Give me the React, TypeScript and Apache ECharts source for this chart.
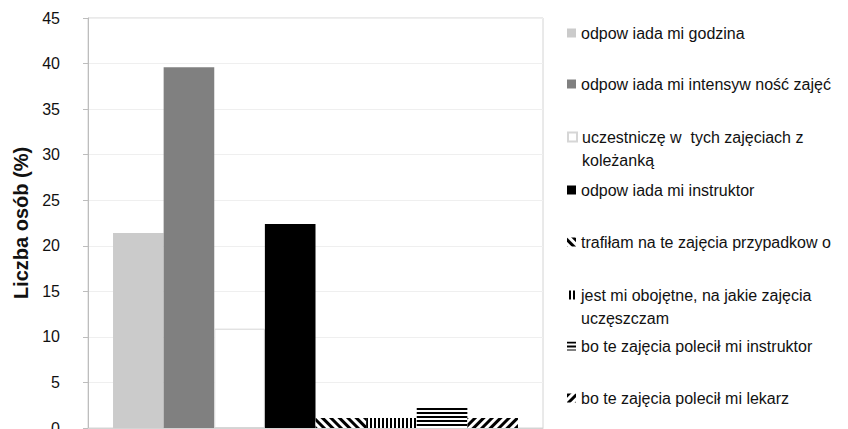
import React, { useEffect, useRef } from "react";
import * as echarts from "echarts";

// Reasons for choosing the classes (share of respondents, %)
const seriesNames: string[] = [
  "odpow iada mi godzina",
  "odpow iada mi intensyw ność zajęć",
  "uczestniczę w  tych zajęciach z koleżanką",
  "odpow iada mi instruktor",
  "trafiłam na te zajęcia przypadkow o",
  "jest mi obojętne, na jakie zajęcia uczęszczam",
  "bo te zajęcia polecił mi instruktor",
  "bo te zajęcia polecił mi lekarz",
];
const legendLines: string[][] = [
  ["odpow iada mi godzina"],
  ["odpow iada mi intensyw ność zajęć"],
  ["uczestniczę w  tych zajęciach z", "koleżanką"],
  ["odpow iada mi instruktor"],
  ["trafiłam na te zajęcia przypadkow o"],
  ["jest mi obojętne, na jakie zajęcia", "uczęszczam"],
  ["bo te zajęcia polecił mi instruktor"],
  ["bo te zajęcia polecił mi lekarz"],
];
const values: number[] = [21.4, 39.6, 10.9, 22.4, 1.1, 1.1, 2.4, 1.1];
const yTicks = { min: 0, max: 45, step: 5 };
const yTitle = "Liczba osób (%)";

const FONT = "'Liberation Sans', Arial, sans-serif";

// fill colour and optional stripe decal for each series
const fills: string[] = ["#cbcbcb", "#808080", "#ffffff", "#000000", "#ffffff", "#ffffff", "#ffffff", "#ffffff"];
const stripe = (gap: number, bar: number, rotation: number) => ({
  symbol: "rect",
  symbolSize: 1,
  color: "#000000",
  dashArrayX: [1, 0],
  dashArrayY: [bar, gap],
  rotation,
});
const decals: any[] = [
  null,
  null,
  null,
  null,
  stripe(3, 3, Math.PI / 4),
  stripe(2, 2, Math.PI / 2),
  stripe(2, 2, 0),
  stripe(3, 3, -Math.PI / 4),
];

// legend rows: vertical centre of each icon
const legendY: number[] = [33, 84, 137, 190, 242, 295, 346, 398];
const LINE_H = 23;

export default function App() {
  const ref = useRef<HTMLDivElement>(null);

  useEffect(() => {
    if (!ref.current) return;
    const chart = echarts.init(ref.current, undefined, { renderer: "svg" });

    const series = seriesNames.map((name, i) => ({
      name,
      type: "bar",
      barGap: "0%",
      barCategoryGap: "11%",
      data: [values[i]],
      itemStyle: {
        color: fills[i],
        borderColor: i === 2 ? "#d6d6d6" : i >= 4 ? "#ffffff" : fills[i],
        borderWidth: i === 2 ? 1 : 0,
        decal: decals[i] || undefined,
      },
    }));

    const legends = seriesNames.map((name, i) => {
      const lines = legendLines[i];
      const text = lines.length > 1 ? "\n" + lines.join("\n") : lines[0];
      const blockH = lines.length > 1 ? LINE_H * 3 : LINE_H;
      return {
        data: [name],
        orient: "vertical",
        left: 567,
        top: legendY[i] - blockH / 2,
        padding: 0,
        icon: "rect",
        itemWidth: 9,
        itemHeight: 9,
        selectedMode: false,
        formatter: () => text,
        textStyle: {
          fontFamily: FONT,
          fontSize: 16,
          color: "#111111",
          lineHeight: LINE_H,
        },
      };
    });

    chart.setOption({
      animation: false,
      backgroundColor: "#ffffff",
      grid: {
        left: 88,
        right: 305,
        top: 18,
        bottom: 1,
        outerBoundsMode: "none",
        show: true,
        borderColor: "#d4d4d4",
        borderWidth: 1,
      },
      legend: legends,
      xAxis: {
        type: "category",
        data: [""],
        axisLabel: { show: false },
        axisTick: { show: false },
        axisLine: { show: true, lineStyle: { color: "#d4d4d4" } },
      },
      yAxis: {
        type: "value",
        min: yTicks.min,
        max: yTicks.max,
        interval: yTicks.step,
        name: yTitle,
        nameLocation: "middle",
        nameGap: 52,
        nameTextStyle: {
          fontFamily: FONT,
          fontSize: 20,
          fontWeight: "bold",
          color: "#111111",
        },
        axisLine: { show: true, lineStyle: { color: "#bdbdbd" } },
        axisTick: { show: true, length: 5, lineStyle: { color: "#bdbdbd" } },
        axisLabel: {
          margin: 28,
          fontFamily: FONT,
          fontSize: 16,
          color: "#111111",
        },
        splitLine: { show: true, lineStyle: { color: "#efefef" } },
      },
      series,
    });

    return () => chart.dispose();
  }, []);

  return (
    <div
      ref={ref}
      style={{ position: "absolute", left: 0, top: 0, width: 848, height: 429 }}
    />
  );
}
